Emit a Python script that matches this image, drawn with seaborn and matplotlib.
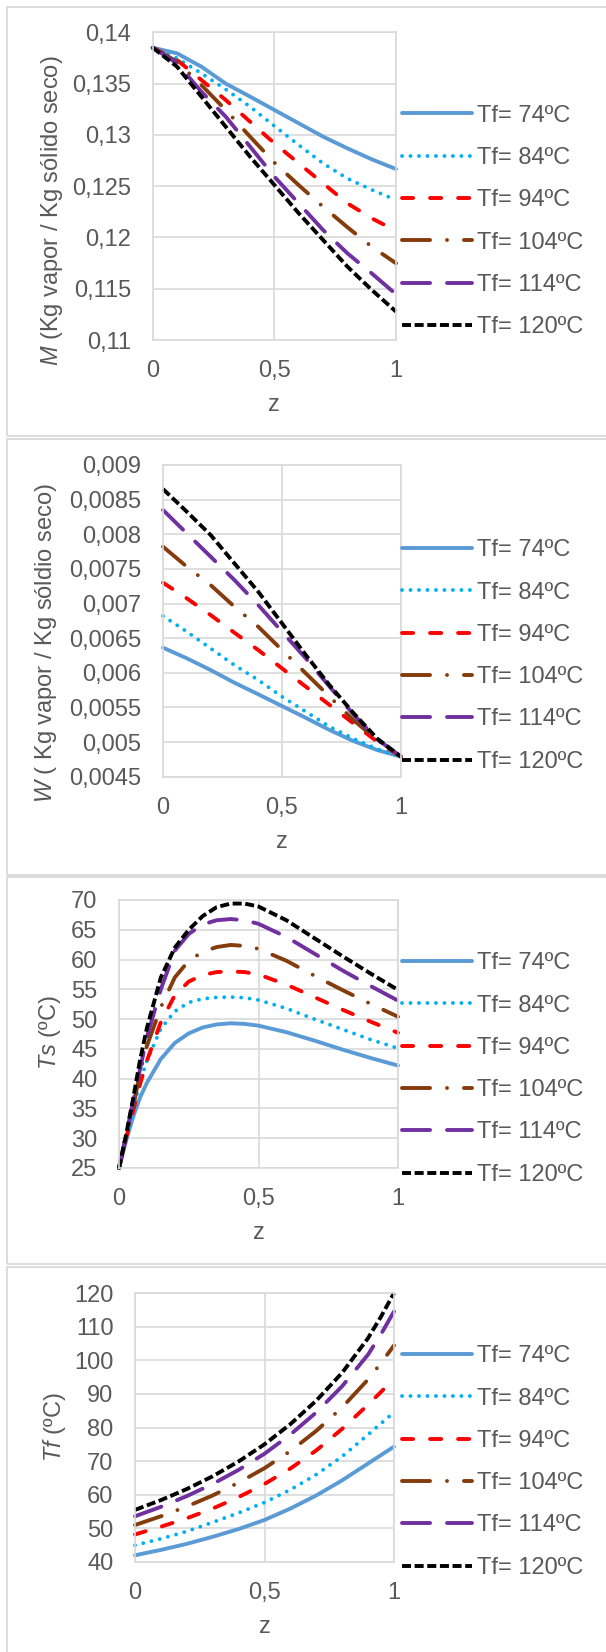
import matplotlib
matplotlib.use("Agg")
import matplotlib.pyplot as plt
from matplotlib.patches import Rectangle
import seaborn as sns

# -------------------------------
# data
# -------------------------------
labels = ["Tf= 74ºC", "Tf= 84ºC", "Tf= 94ºC", "Tf= 104ºC", "Tf= 114ºC", "Tf= 120ºC"]

z_m = [0, 0.1, 0.2, 0.3, 0.4, 0.5, 0.6, 0.7, 0.8, 0.9, 1.0]
m_74 = [0.1385, 0.13795, 0.13665, 0.1350, 0.13373, 0.13243, 0.13113, 0.12983, 0.12869, 0.12762, 0.12667]
m_84 = [0.1385, 0.13747, 0.13600, 0.13444, 0.13275, 0.13087, 0.12901, 0.12723, 0.12575, 0.12465, 0.12365]
m_94 = [0.1385, 0.1373, 0.13535, 0.1334, 0.13129, 0.12918, 0.12723, 0.12528, 0.12333, 0.12187, 0.12063]
m_104 = [0.1385, 0.13714, 0.13486, 0.13243, 0.12983, 0.12730, 0.12510, 0.12300, 0.12100, 0.11910, 0.11748]
m_114 = [0.1385, 0.13698, 0.13421, 0.13178, 0.12886, 0.12593, 0.12333, 0.12073, 0.11846, 0.1165, 0.11446]
m_120 = [0.1385, 0.13665, 0.13373, 0.1308, 0.12788, 0.12512, 0.12236, 0.11976, 0.11716, 0.11489, 0.11277]

z_w = [0, 0.1, 0.2, 0.3, 0.4, 0.5, 0.6, 0.7, 0.8, 0.9, 1.0]
w_74 = [0.006363, 0.006209, 0.00604, 0.005857, 0.00569, 0.00552, 0.00535, 0.005174, 0.005015, 0.004885, 0.004789]
w_84 = [0.006820, 0.006594, 0.006353, 0.006112, 0.005896, 0.005655, 0.005439, 0.005222, 0.00505, 0.00490, 0.004789]
w_94 = [0.007301, 0.007075, 0.006834, 0.006579, 0.006329, 0.006064, 0.0058, 0.005535, 0.00527, 0.005005, 0.004789]
w_104 = [0.007821, 0.007532, 0.007267, 0.006955, 0.006666, 0.006329, 0.005992, 0.005655, 0.005318, 0.005029, 0.004789]
w_114 = [0.00835, 0.008013, 0.007677, 0.00734, 0.006979, 0.006594, 0.006209, 0.0058, 0.00540, 0.00504, 0.004789]
w_120 = [0.008653, 0.008326, 0.00799, 0.00758, 0.007171, 0.006714, 0.006257, 0.00582, 0.00542, 0.00505, 0.004789]

z_ts = [0, 0.025, 0.05, 0.075, 0.1, 0.15, 0.2, 0.25, 0.3, 0.35, 0.4, 0.45, 0.5, 0.6, 0.7, 0.8, 0.9, 1.0]
ts_74 = [25, 29.5, 33.5, 36.8, 39.3, 43.3, 46.0, 47.6, 48.6, 49.1, 49.3, 49.2, 48.9, 47.8, 46.4, 44.9, 43.5, 42.2]
ts_84 = [25, 30, 34.5, 39.5, 43, 48.4, 51.3, 52.8, 53.4, 53.65, 53.7, 53.6, 53.2, 51.8, 50.0, 48.3, 46.6, 45.1]
ts_94 = [25, 30, 34.5, 39, 43, 49.5, 54, 56.3, 57.4, 57.9, 58.0, 57.9, 57.5, 55.8, 53.7, 51.6, 49.6, 47.7]
ts_104 = [25, 30, 35, 41, 45.5, 52, 57, 59.8, 61.3, 62.1, 62.45, 62.3, 61.8, 59.8, 57.3, 54.9, 52.6, 50.4]
ts_114 = [25, 30.5, 36, 41.5, 47, 55, 61.5, 64.3, 65.9, 66.6, 66.8, 66.6, 66.0, 63.8, 61.0, 58.2, 55.6, 53.1]
ts_120 = [25, 30.5, 36.5, 43, 48.5, 57, 62, 65, 67.3, 68.8, 69.4, 69.4, 68.9, 66.6, 63.6, 60.6, 57.7, 54.9]

z_tf = [0, 0.1, 0.2, 0.3, 0.4, 0.5, 0.6, 0.7, 0.8, 0.9, 0.95, 1.0]
tf_74 = [42.0, 43.6, 45.4, 47.5, 49.8, 52.5, 55.9, 59.8, 64.3, 69.3, 71.8, 74.3]
tf_84 = [45.0, 46.9, 49.1, 51.8, 54.6, 57.7, 61.5, 66.0, 71.4, 77.9, 81.2, 84.5]
tf_94 = [48.2, 50.5, 53.0, 55.9, 59.3, 63.2, 67.8, 73.2, 79.6, 86.8, 90.6, 94.5]
tf_104 = [51.0, 53.6, 56.5, 59.8, 63.6, 67.9, 73.0, 79.0, 86.0, 94.3, 99.2, 104.4]
tf_114 = [53.6, 56.4, 59.6, 63.2, 67.4, 72.2, 77.9, 84.5, 92.3, 101.7, 107.8, 114.5]
tf_120 = [55.5, 58.4, 61.7, 65.5, 69.9, 75.0, 81.0, 88.0, 96.3, 106.6, 113.0, 120.0]

x_ticks = [0, 0.5, 1]
x_ticklabels = ["0", "0,5", "1"]
m_ticks = [0.11, 0.115, 0.12, 0.125, 0.13, 0.135, 0.14]
m_ticklabels = ["0,11", "0,115", "0,12", "0,125", "0,13", "0,135", "0,14"]
w_ticks = [0.0045, 0.005, 0.0055, 0.006, 0.0065, 0.007, 0.0075, 0.008, 0.0085, 0.009]
w_ticklabels = ["0,0045", "0,005", "0,0055", "0,006", "0,0065", "0,007", "0,0075", "0,008", "0,0085", "0,009"]
ts_ticks = [25, 30, 35, 40, 45, 50, 55, 60, 65, 70]
ts_ticklabels = ["25", "30", "35", "40", "45", "50", "55", "60", "65", "70"]
tf_ticks = [40, 50, 60, 70, 80, 90, 100, 110, 120]
tf_ticklabels = ["40", "50", "60", "70", "80", "90", "100", "110", "120"]

# -------------------------------
# style
# -------------------------------
sns.set_style("white")
plt.rcParams["font.family"] = ["Liberation Sans", "DejaVu Sans"]
plt.rcParams["mathtext.fontset"] = "custom"
plt.rcParams["mathtext.it"] = "Liberation Sans:italic"
plt.rcParams["mathtext.rm"] = "Liberation Sans"
plt.rcParams["lines.scale_dashes"] = False

W_PX, H_PX = 606, 1652
FS = 17
TXT = "#595959"
GRID = "#d9d9d9"
LW = 2.8

colors = ["#5b9bd5", "#00b0f0", "#ff0000", "#843c0c", "#7030a0", "#000000"]
styles = [
    "-",
    (0, (0.01, 6.1)),
    (0, (8.0, 12.2)),
    (0, (20.2, 12.2, 0.01, 12.2)),
    (0, (20.2, 12.2)),
    (0, (6.5, 2.6)),
]
caps = ["round", "round", "round", "round", "round", "butt"]

fig = plt.figure(figsize=(W_PX / 100, H_PX / 100), dpi=100)


def fx(px):
    return px / W_PX


def fy(py):
    return 1 - py / H_PX


# panel frames (Excel chart areas)
for top, bot in [(7, 436), (439, 875), (877, 1264), (1267, 1665)]:
    fig.patches.append(Rectangle((fx(7), fy(bot)), fx(640) - fx(7), fy(top) - fy(bot),
                                 transform=fig.transFigure, fill=False,
                                 ec=GRID, lw=1.3))

panels = [
    # plot box (left, right, top, bottom px), z, series, ticks, labels, ylabel, ylabel pos, z label y, legend centre y
    dict(box=(152.7, 396, 32.3, 340), z=z_m, ys=[m_74, m_84, m_94, m_104, m_114, m_120],
         ticks=m_ticks, tl=m_ticklabels, ylab=r"$\mathit{M}$ (Kg vapor / Kg sólido seco)",
         ylpos=(52, 211), zy=405, legy=221.5),
    dict(box=(163, 401, 465, 776.7), z=z_w, ys=[w_74, w_84, w_94, w_104, w_114, w_120],
         ticks=w_ticks, tl=w_ticklabels, ylab=r"$\mathit{W}$ ( Kg vapor / Kg sóldio seco)",
         ylpos=(46.4, 643.5), zy=841.7, legy=656),
    dict(box=(119, 398, 900, 1168), z=z_ts, ys=[ts_74, ts_84, ts_94, ts_104, ts_114, ts_120],
         ticks=ts_ticks, tl=ts_ticklabels, ylab=r"$\mathit{Ts}$ (ºC)",
         ylpos=(50.3, 1033), zy=1233, legy=1069),
    dict(box=(135, 394, 1293, 1562), z=z_tf, ys=[tf_74, tf_84, tf_94, tf_104, tf_114, tf_120],
         ticks=tf_ticks, tl=tf_ticklabels, ylab=r"$\mathit{Tf}$ (ºC)",
         ylpos=(54.1, 1427), zy=1627, legy=1462),
]

for p in panels:
    l, r, t, b = p["box"]
    ax = fig.add_axes([fx(l), fy(b), fx(r) - fx(l), fy(t) - fy(b)])
    for yv, lab, c, ls, cap in zip(p["ys"], labels, colors, styles, caps):
        sns.lineplot(x=p["z"], y=yv, ax=ax, color=c, lw=LW, linestyle=ls, label=lab,
                     errorbar=None, sort=False, clip_on=False,
                     dash_capstyle=cap, solid_capstyle="round")
    ax.set_xlim(0, 1)
    ax.set_ylim(p["ticks"][0], p["ticks"][-1])
    ax.set_xticks(x_ticks)
    ax.set_xticklabels(x_ticklabels)
    ax.set_yticks(p["ticks"])
    ax.set_yticklabels(p["tl"])
    ax.tick_params(length=0, labelsize=FS, labelcolor=TXT)
    ax.tick_params(axis="y", pad=15.5)
    ax.tick_params(axis="x", pad=14.6)
    ax.grid(True, color=GRID, lw=1.2)
    ax.set_axisbelow(True)
    for s in ax.spines.values():
        s.set_color(GRID)
        s.set_linewidth(1.2)

    ax.set_xlabel("z", fontsize=FS, color=TXT)
    ax.xaxis.label.set_va("center")
    ax.xaxis.set_label_coords(0.5, (b - p["zy"]) / (b - t))
    ax.set_ylabel(p["ylab"], fontsize=FS, color=TXT)
    ax.yaxis.label.set_va("center")
    ax.yaxis.set_label_coords((p["ylpos"][0] - l) / (r - l), (b - p["ylpos"][1]) / (b - t))

    ax.legend(loc="center left", bbox_to_anchor=(fx(402), fy(p["legy"])),
              bbox_transform=fig.transFigure, frameon=False, fontsize=FS,
              labelcolor=TXT, handlelength=2.95, handletextpad=0.23,
              labelspacing=0.86, borderpad=0, borderaxespad=0)

fig.savefig("out.png", dpi=100)
